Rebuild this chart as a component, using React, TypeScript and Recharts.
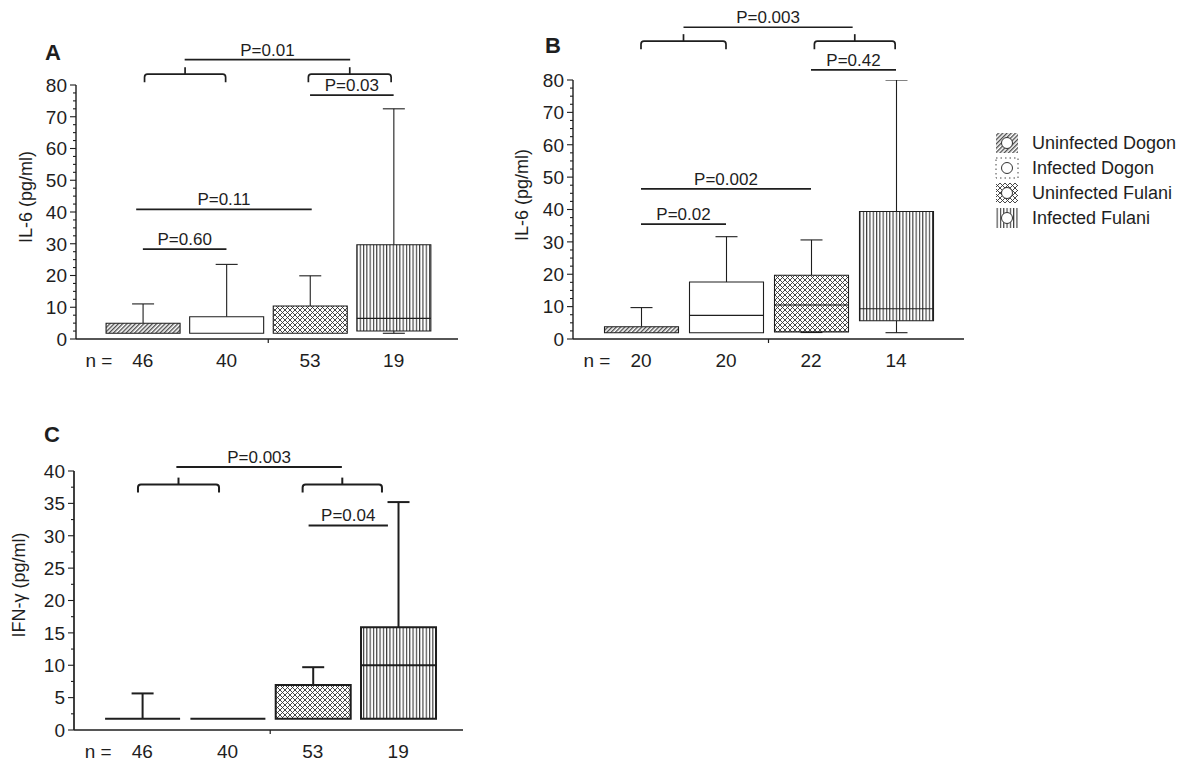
import React from "react";
import { ComposedChart, Bar, XAxis, YAxis, ReferenceLine } from "recharts";

const INK = "#1e1e1e";

const groups = ["Uninfected Dogon", "Infected Dogon", "Uninfected Fulani", "Infected Fulani"];
const fills = ["hatch", "plain", "cross", "vlines"];
const positions = [1, 2, 3, 4];

// panel A: IL-6
const nA = [46, 40, 53, 19];
const minA = [1.8, 1.8, 1.8, 1.8];
const q1A = [1.8, 1.8, 1.8, 2.5];
const medA = [1.8, 1.8, 1.8, 6.5];
const q3A = [4.95, 7.0, 10.4, 29.7];
const maxA = [11.05, 23.5, 19.9, 72.5];

// panel B: IL-6
const nB = [20, 20, 22, 14];
const minB = [1.95, 1.95, 2.0, 1.95];
const q1B = [1.95, 1.95, 2.2, 5.65];
const medB = [1.95, 7.3, 10.5, 9.35];
const q3B = [3.8, 17.6, 19.7, 39.4];
const maxB = [9.7, 31.6, 30.6, 80];

// panel C: IFN-γ
const nC = [46, 40, 53, 19];
const minC = [1.75, 1.75, 1.75, 1.75];
const q1C = [1.75, 1.75, 1.75, 1.75];
const medC = [1.75, 1.75, 1.75, 10.0];
const q3C = [1.75, 1.75, 6.95, 15.85];
const maxC = [5.65, 1.75, 9.7, 35.2];

const majorsIL6 = [0, 10, 20, 30, 40, 50, 60, 70, 80];
const majorsIFN = [0, 5, 10, 15, 20, 25, 30, 35, 40];

type Note = { x1: number; x2: number; y: number; label?: string };

const pLinesA: Note[] = [
  { x1: 1, x2: 2, y: 28.3, label: "P=0.60" },
  { x1: 0.92, x2: 3.02, y: 40.8, label: "P=0.11" },
  { x1: 3, x2: 4, y: 76.8, label: "P=0.03" },
  { x1: 1.5, x2: 3.48, y: 88.0, label: "P=0.01" },
];
const bracketsA: Note[] = [
  { x1: 1.02, x2: 1.99, y: 83.4 },
  { x1: 2.98, x2: 3.97, y: 83.4 },
];

const pLinesB: Note[] = [
  { x1: 1, x2: 2, y: 35.5, label: "P=0.02" },
  { x1: 1, x2: 3, y: 46.4, label: "P=0.002" },
  { x1: 3, x2: 4, y: 83.1, label: "P=0.42" },
  { x1: 1.5, x2: 3.49, y: 96.3, label: "P=0.003" },
];
const bracketsB: Note[] = [
  { x1: 1.0, x2: 2.0, y: 92.0 },
  { x1: 3.04, x2: 3.99, y: 92.0 },
];

const pLinesC: Note[] = [
  { x1: 2.95, x2: 3.88, y: 31.6, label: "P=0.04" },
  { x1: 1.4, x2: 3.34, y: 40.6, label: "P=0.003" },
];
const bracketsC: Note[] = [
  { x1: 0.95, x2: 1.9, y: 37.9 },
  { x1: 2.88, x2: 3.81, y: 37.9 },
];

function makeRows(n: number[], mn: number[], q1: number[], md: number[], q3: number[], mx: number[]) {
  return positions.map((p, i) => ({
    pos: p, n: n[i], min: mn[i], q1: q1[i], med: md[i], q3: q3[i], max: mx[i], pat: fills[i],
  }));
}

// majors plus the minor marks between them
function withMinor(majors: number[], parts: number) {
  const out: number[] = [];
  for (let i = 0; i < majors.length; i++) {
    out.push(majors[i]);
    if (i < majors.length - 1) {
      const step = (majors[i + 1] - majors[i]) / parts;
      for (let j = 1; j < parts; j++) out.push(majors[i] + step * j);
    }
  }
  return out;
}

const BoxShape = (props: any) => {
  const { x, y, width, height, payload, boxW, sw } = props;
  if (!payload || !isFinite(height) || !isFinite(y)) return null;
  const top = Math.min(y, y + height);
  const bottom = Math.max(y, y + height);
  const k = (bottom - top) / payload.max;
  const py = (v: number) => bottom - v * k;
  const cx = x + width / 2;
  const l = cx - boxW / 2;
  const r = cx + boxW / 2;
  const cap = 11;
  const fill = payload.pat === "plain" ? "#fff" : `url(#pat-${payload.pat})`;
  return (
    <g>
      {payload.max > payload.q3 && (
        <g stroke={INK} strokeWidth={sw}>
          <line x1={cx} x2={cx} y1={py(payload.q3)} y2={py(payload.max)} />
          <line x1={cx - cap} x2={cx + cap} y1={py(payload.max)} y2={py(payload.max)} />
        </g>
      )}
      {payload.min < payload.q1 && (
        <g stroke={INK} strokeWidth={sw}>
          <line x1={cx} x2={cx} y1={py(payload.q1)} y2={py(payload.min)} />
          <line x1={cx - cap} x2={cx + cap} y1={py(payload.min)} y2={py(payload.min)} />
        </g>
      )}
      <path
        d={`M${l},${py(payload.q3)}H${r}V${py(payload.q1)}H${l}Z`}
        fill={fill}
        stroke={INK}
        strokeWidth={sw}
      />
      {payload.med > payload.q1 && payload.med < payload.q3 && (
        <line x1={l} x2={r} y1={py(payload.med)} y2={py(payload.med)} stroke={INK} strokeWidth={sw} />
      )}
    </g>
  );
};

const PLine = ({ x1, y1, x2, label, sw }: any) => (
  <g>
    <line x1={x1} x2={x2} y1={y1} y2={y1} stroke={INK} strokeWidth={sw} />
    <text x={(x1 + x2) / 2} y={y1 - 4} textAnchor="middle" fontSize={17} fill={INK}>
      {label}
    </text>
  </g>
);

const Bracket = ({ x1, y1, x2, sw }: any) => {
  const m = (x1 + x2) / 2;
  const r = 3;
  return (
    <g fill="none" stroke={INK} strokeWidth={sw}>
      <path d={`M${x1},${y1 + 8}V${y1 + r}Q${x1},${y1} ${x1 + r},${y1}H${x2 - r}Q${x2},${y1} ${x2},${y1 + r}V${y1 + 8}`} />
      <path d={`M${m},${y1}V${y1 - 7}`} />
    </g>
  );
};

const YTick = ({ x, y, payload, majors }: any) => {
  const major = majors.includes(payload.value);
  return (
    <g>
      <line x1={x - (major ? 6 : 3)} x2={x} y1={y} y2={y} stroke={INK} strokeWidth={1.1} />
      {major && (
        <text x={x - 9} y={y} dy="0.36em" textAnchor="end" fontSize={19} fill={INK}>
          {payload.value}
        </text>
      )}
    </g>
  );
};

const XTick = ({ x, y, payload, nums }: any) => {
  const i = positions.indexOf(payload.value);
  return (
    <g fontSize={19} fill={INK}>
      <text x={x} y={y + 28} textAnchor="middle" fill={INK}>{nums[i]}</text>
      {i === 0 && (
        <text x={x - 44} y={y + 28} textAnchor="middle" fill={INK}>n =</text>
      )}
    </g>
  );
};

type PanelProps = {
  rows: any[];
  nums: number[];
  left: number;
  top: number;
  width: number;
  height: number;
  margin: { top: number; right: number; bottom: number; left: number };
  yWidth: number;
  xHeight: number;
  xDomain: [number, number];
  majors: number[];
  minorParts: number;
  boxW: number;
  sw: number;
  lsw: number;
  notes: Note[];
  brackets: Note[];
};

function Panel(p: PanelProps) {
  const yMax = p.majors[p.majors.length - 1];
  return (
    <div style={{ position: "absolute", left: p.left, top: p.top }}>
      <ComposedChart width={p.width} height={p.height} data={p.rows} margin={p.margin}>
        <XAxis
          type="number"
          dataKey="pos"
          domain={p.xDomain}
          allowDataOverflow
          ticks={positions}
          interval={0}
          tickSize={0}
          tickMargin={0}
          tickLine={false}
          height={p.xHeight}
          axisLine={{ stroke: INK, strokeWidth: p.lsw - 0.3 }}
          tick={(t: any) => <XTick {...t} nums={p.nums} />}
        />
        <YAxis
          type="number"
          domain={[0, yMax]}
          allowDataOverflow
          ticks={withMinor(p.majors, p.minorParts)}
          interval={0}
          tickSize={0}
          tickMargin={0}
          tickLine={false}
          width={p.yWidth}
          axisLine={{ stroke: INK, strokeWidth: p.lsw - 0.3 }}
          tick={(t: any) => <YTick {...t} majors={p.majors} />}
        />
        <Bar
          dataKey={(d: any) => [0, d.max]}
          isAnimationActive={false}
          barSize={40}
          fill="none"
          shape={(s: any) => <BoxShape {...s} boxW={p.boxW} sw={p.sw} />}
        />
        <ReferenceLine
          x={2.5}
          ifOverflow="visible"
          shape={(s: any) => {
            const b = Math.max(s.y1, s.y2);
            return <line x1={s.x1} x2={s.x1} y1={b} y2={b + 4} stroke={INK} strokeWidth={1.2} />;
          }}
        />
        {p.brackets.map((n, i) => (
          <ReferenceLine
            key={"b" + i}
            segment={[{ x: n.x1, y: n.y }, { x: n.x2, y: n.y }]}
            ifOverflow="visible"
            shape={(s: any) => <Bracket {...s} sw={p.lsw} />}
          />
        ))}
        {p.notes.map((n, i) => (
          <ReferenceLine
            key={"p" + i}
            segment={[{ x: n.x1, y: n.y }, { x: n.x2, y: n.y }]}
            ifOverflow="visible"
            shape={(s: any) => <PLine {...s} label={n.label} sw={p.lsw} />}
          />
        ))}
      </ComposedChart>
    </div>
  );
}

const PatternDefs = () => (
  <svg width={0} height={0} style={{ position: "absolute" }}>
    <defs>
      <pattern id="pat-hatch" width={3} height={3} patternUnits="userSpaceOnUse" patternTransform="rotate(45)">
        <rect width={3} height={3} fill="#fff" />
        <line x1={0.7} y1={0} x2={0.7} y2={3} stroke="#444" strokeWidth={1.3} />
      </pattern>
      <pattern id="pat-cross" width={5} height={5} patternUnits="userSpaceOnUse">
        <rect width={5} height={5} fill="#fff" />
        <path d="M0,0L5,5M5,0L0,5" stroke="#333" strokeWidth={0.9} />
      </pattern>
      <pattern id="pat-vlines" width={3.3} height={10} patternUnits="userSpaceOnUse">
        <rect width={3.3} height={10} fill="#fff" />
        <line x1={0.6} y1={0} x2={0.6} y2={10} stroke="#222" strokeWidth={1} />
      </pattern>
    </defs>
  </svg>
);

const LegendBox = () => (
  <svg width={210} height={105} style={{ position: "absolute", left: 990, top: 128 }}>
    {groups.map((g, i) => {
      const cy = 15 + i * 25;
      const pat = fills[i];
      return (
        <g key={g}>
          <rect
            x={6}
            y={cy - 10}
            width={22}
            height={20}
            fill={pat === "plain" ? "#fff" : `url(#pat-${pat})`}
            stroke={pat === "plain" ? "#444" : "none"}
            strokeDasharray={pat === "plain" ? "1.5 3" : undefined}
          />
          <circle cx={17} cy={cy} r={5.5} fill="#fff" stroke="#333" strokeWidth={1} />
          <text x={42} y={cy} dy="0.36em" fontSize={18} fill={INK}>{g}</text>
        </g>
      );
    })}
  </svg>
);

const letterStyle: React.CSSProperties = {
  position: "absolute",
  fontWeight: "bold",
  fontSize: 22,
  lineHeight: 1,
  transform: "translateY(-50%)",
  color: INK,
};

const RotLabel = ({ cx, cy, text }: { cx: number; cy: number; text: string }) => (
  <div
    style={{
      position: "absolute",
      left: cx,
      top: cy,
      transform: "translate(-50%, -50%) rotate(-90deg)",
      whiteSpace: "nowrap",
      fontSize: 18,
      lineHeight: 1,
      color: INK,
    }}
  >
    {text}
  </div>
);

export default function App() {
  const rowsA = makeRows(nA, minA, q1A, medA, q3A, maxA);
  const rowsB = makeRows(nB, minB, q1B, medB, q3B, maxB);
  const rowsC = makeRows(nC, minC, q1C, medC, q3C, maxC);
  return (
    <div
      style={{
        position: "absolute",
        left: 0,
        top: 0,
        width: 1200,
        height: 783,
        background: "#fff",
        overflow: "hidden",
        fontFamily: '"Liberation Sans", Arial, sans-serif',
      }}
    >
      <PatternDefs />
      <Panel
        rows={rowsA}
        nums={nA}
        left={0}
        top={0}
        width={480}
        height={375}
        margin={{ top: 85, right: 22, bottom: 0, left: 0 }}
        yWidth={76}
        xHeight={36}
        xDomain={[0.2, 4.77]}
        majors={majorsIL6}
        minorParts={4}
        boxW={74}
        sw={1.1}
        lsw={1.7}
        notes={pLinesA}
        brackets={bracketsA}
      />
      <Panel
        rows={rowsB}
        nums={nB}
        left={480}
        top={0}
        width={500}
        height={375}
        margin={{ top: 80, right: 16, bottom: 0, left: 0 }}
        yWidth={93}
        xHeight={36}
        xDomain={[0.2, 4.8]}
        majors={majorsIL6}
        minorParts={4}
        boxW={74}
        sw={1.1}
        lsw={1.7}
        notes={pLinesB}
        brackets={bracketsB}
      />
      <Panel
        rows={rowsC}
        nums={nC}
        left={0}
        top={380}
        width={480}
        height={400}
        margin={{ top: 91, right: 17, bottom: 0, left: 0 }}
        yWidth={74}
        xHeight={50}
        xDomain={[0.2, 4.76]}
        majors={majorsIFN}
        minorParts={2}
        boxW={75}
        sw={2}
        lsw={2}
        notes={pLinesC}
        brackets={bracketsC}
      />
      <div style={{ ...letterStyle, left: 45, top: 53 }}>A</div>
      <div style={{ ...letterStyle, left: 545, top: 46 }}>B</div>
      <div style={{ ...letterStyle, left: 44, top: 435 }}>C</div>
      <RotLabel cx={26} cy={197} text="IL-6 (pg/ml)" />
      <RotLabel cx={522} cy={195} text="IL-6 (pg/ml)" />
      <RotLabel cx={19} cy={585} text="IFN-γ (pg/ml)" />
      <LegendBox />
    </div>
  );
}
